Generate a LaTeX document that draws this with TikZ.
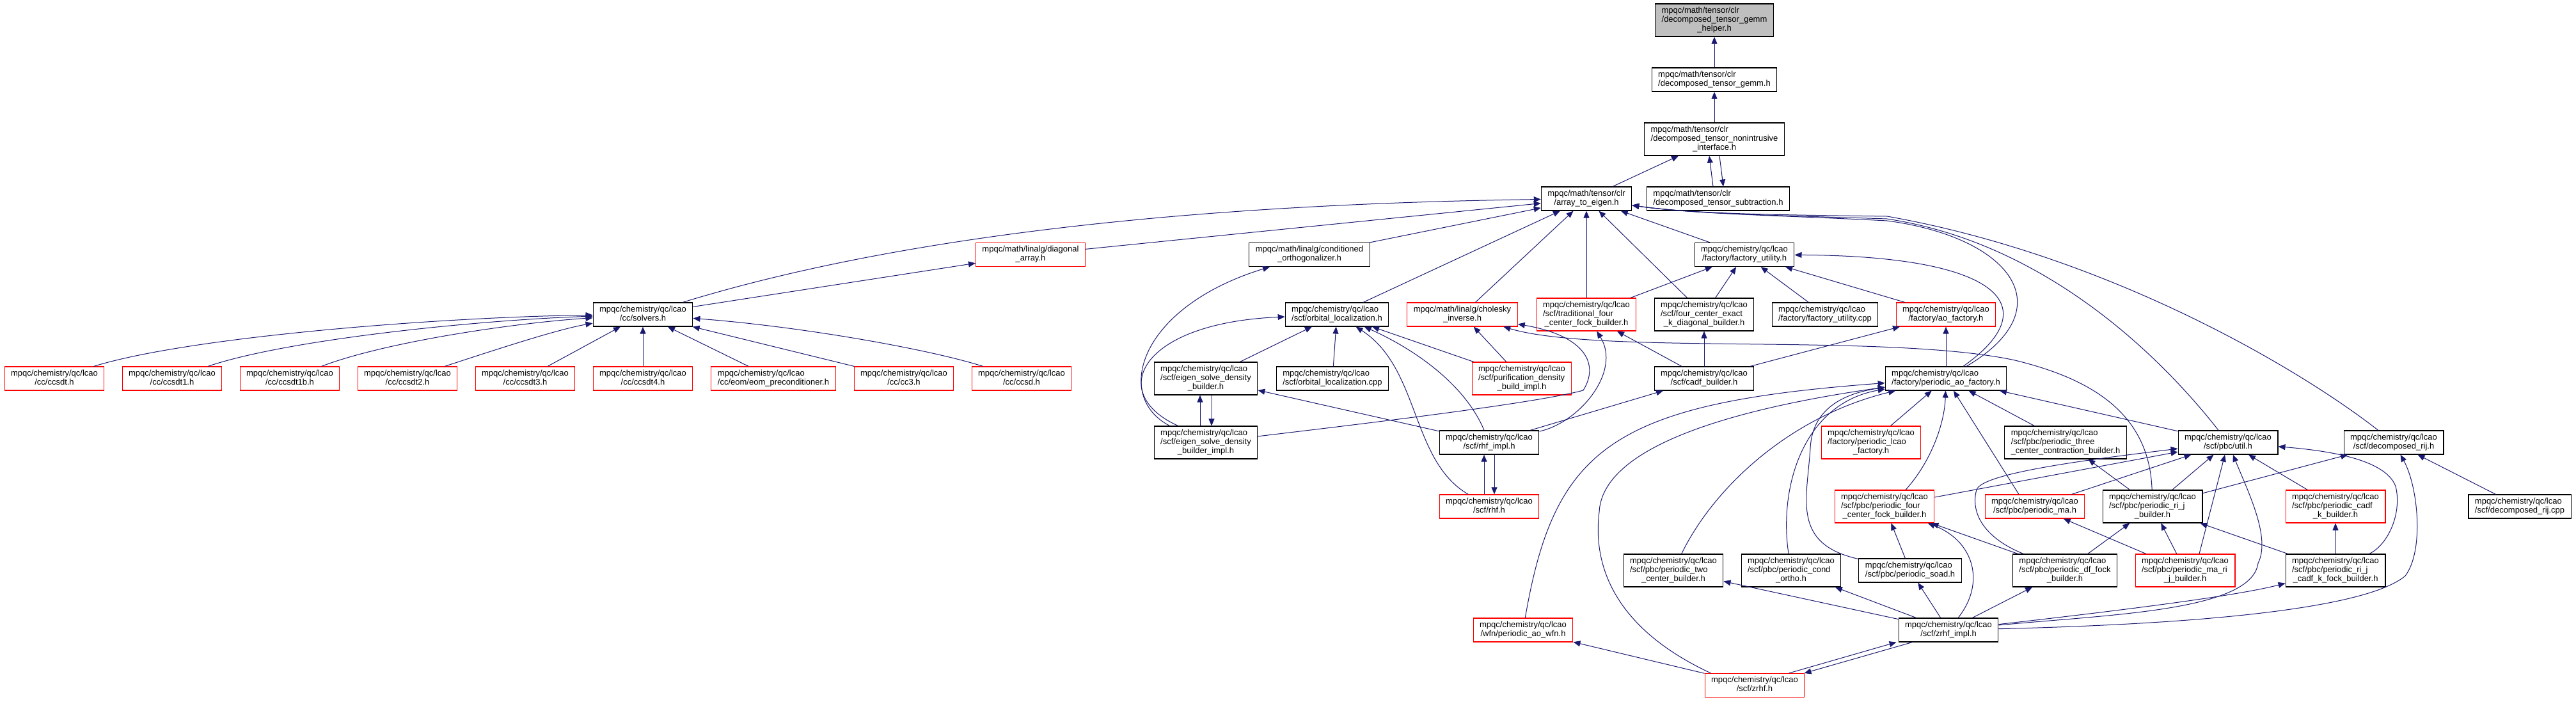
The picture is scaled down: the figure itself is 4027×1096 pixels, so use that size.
\documentclass[tikz,border=0pt]{standalone}
\usepackage{fontspec}
\setmainfont{Liberation Sans}
\usetikzlibrary{arrows.meta}
\newcommand{\lcao}{mpqc/chemistry/qc/lcao}
\newcommand{\ftwo}[2]{\begin{tabular}{@{}l@{}}#1\\\multicolumn{1}{@{}c@{}}{#2}\end{tabular}}
\newcommand{\fthree}[3]{\begin{tabular}{@{}l@{}}#1\\#2\\\multicolumn{1}{@{}c@{}}{#3}\end{tabular}}
\begin{document}
\begin{tikzpicture}[x=1pt, y=-1pt,
    font=\fontsize{13}{14}\selectfont,
    hdr/.style={draw=black, fill=white, line width=1.1pt, inner xsep=10pt, inner ysep=4.5pt},
    hdrcut/.style={hdr, draw=red},
    hdrtop/.style={hdr, fill=gray!50},
    incl/.style={draw=myedge, line width=1pt, -{Triangle[length=11pt,width=9pt]}}]
    \definecolor{myedge}{RGB}{25,25,112}
    \useasboundingbox (0,0) rectangle (4027,1096);

    % ranks 1 to 5
    \node[hdrtop] (helper) at (2680,31.5) {\fthree{mpqc/math/tensor/clr}{/decomposed\_tensor\_gemm}{\_helper.h}};
    \node[hdr] (gemm) at (2680,124.5) {\ftwo{mpqc/math/tensor/clr}{/decomposed\_tensor\_gemm.h}};
    \node[hdr] (nonint) at (2680,217.5) {\fthree{mpqc/math/tensor/clr}{/decomposed\_tensor\_nonintrusive}{\_interface.h}};
    \node[hdr] (ate) at (2480,310.5) {\ftwo{mpqc/math/tensor/clr}{/array\_to\_eigen.h}};
    \node[hdr] (subtr) at (2686,310.5) {\ftwo{mpqc/math/tensor/clr}{/decomposed\_tensor\_subtraction.h}};
    \node[hdrcut] (diag) at (1611,398) {\ftwo{mpqc/math/linalg/diagonal}{\_array.h}};
    \node[hdr] (cond) at (2047,398) {\ftwo{mpqc/math/linalg/conditioned}{\_orthogonalizer.h}};
    \node[hdr] (fu) at (2727,398) {\ftwo{\lcao}{/factory/factory\_utility.h}};

    % rank 6
    \node[hdr] (solvers) at (1005,491.5) {\ftwo{\lcao}{/cc/solvers.h}};
    \node[hdr] (orbh) at (2090,491.5) {\ftwo{\lcao}{/scf/orbital\_localization.h}};
    \node[hdrcut] (cho) at (2286,491.5) {\ftwo{mpqc/math/linalg/cholesky}{\_inverse.h}};
    \node[hdrcut] (trad) at (2480,491.5) {\fthree{\lcao}{/scf/traditional\_four}{\_center\_fock\_builder.h}};
    \node[hdr] (fce) at (2664,491.5) {\fthree{\lcao}{/scf/four\_center\_exact}{\_k\_diagonal\_builder.h}};
    \node[hdr] (fucpp) at (2853,491.5) {\ftwo{\lcao}{/factory/factory\_utility.cpp}};
    \node[hdrcut] (aof) at (3042,491.5) {\ftwo{\lcao}{/factory/ao\_factory.h}};

    % rank 7
    \foreach \nm/\x/\fn in {ccsdt/85/ccsdt.h, ccsdt1/269/ccsdt1.h, ccsdt1b/453/ccsdt1b.h,
        ccsdt2/637/ccsdt2.h, ccsdt3/821/ccsdt3.h, ccsdt4/1005/ccsdt4.h,
        eompre/1209/{eom/eom\_preconditioner.h}, cc3/1413/cc3.h, ccsd/1597/ccsd.h}
        \node[hdrcut] (\nm) at (\x,591.5) {\ftwo{\lcao}{/cc/\fn}};
    \node[hdr] (esb) at (1885,591.5) {\fthree{\lcao}{/scf/eigen\_solve\_density}{\_builder.h}};
    \node[hdr] (olcpp) at (2083,591.5) {\ftwo{\lcao}{/scf/orbital\_localization.cpp}};
    \node[hdrcut] (pur) at (2379,591.5) {\fthree{\lcao}{/scf/purification\_density}{\_build\_impl.h}};
    \node[hdr] (cadf) at (2664,591.5) {\ftwo{\lcao}{/scf/cadf\_builder.h}};
    \node[hdr] (pao) at (3042,591.5) {\ftwo{\lcao}{/factory/periodic\_ao\_factory.h}};

    % rank 8
    \node[hdr] (esi) at (1885,691.5) {\fthree{\lcao}{/scf/eigen\_solve\_density}{\_builder\_impl.h}};
    \node[hdr] (rhi) at (2328,691.5) {\ftwo{\lcao}{/scf/rhf\_impl.h}};
    \node[hdrcut] (plcao) at (2925,691.5) {\fthree{\lcao}{/factory/periodic\_lcao}{\_factory.h}};
    \node[hdr] (threec) at (3229,691.5) {\fthree{\lcao}{/scf/pbc/periodic\_three}{\_center\_contraction\_builder.h}};
    \node[hdr] (util) at (3483,691.5) {\ftwo{\lcao}{/scf/pbc/util.h}};
    \node[hdr] (drijh) at (3742,691.5) {\ftwo{\lcao}{/scf/decomposed\_rij.h}};

    % rank 9
    \node[hdrcut] (rhf) at (2328,791.5) {\ftwo{\lcao}{/scf/rhf.h}};
    \node[hdrcut] (pfc) at (2946,791.5) {\fthree{\lcao}{/scf/pbc/periodic\_four}{\_center\_fock\_builder.h}};
    \node[hdrcut] (pma) at (3181,791.5) {\ftwo{\lcao}{/scf/pbc/periodic\_ma.h}};
    \node[hdr] (rjb) at (3365,791.5) {\fthree{\lcao}{/scf/pbc/periodic\_ri\_j}{\_builder.h}};
    \node[hdrcut] (ckb) at (3651,791.5) {\fthree{\lcao}{/scf/pbc/periodic\_cadf}{\_k\_builder.h}};
    \node[hdr] (drijcpp) at (3939,791.5) {\ftwo{\lcao}{/scf/decomposed\_rij.cpp}};

    % rank 10
    \node[hdr] (twoc) at (2616,891.5) {\fthree{\lcao}{/scf/pbc/periodic\_two}{\_center\_builder.h}};
    \node[hdr] (cort) at (2800,891.5) {\fthree{\lcao}{/scf/pbc/periodic\_cond}{\_ortho.h}};
    \node[hdr] (soad) at (2986,891.5) {\ftwo{\lcao}{/scf/pbc/periodic\_soad.h}};
    \node[hdr] (dff) at (3228,891.5) {\fthree{\lcao}{/scf/pbc/periodic\_df\_fock}{\_builder.h}};
    \node[hdrcut] (mrj) at (3416,891.5) {\fthree{\lcao}{/scf/pbc/periodic\_ma\_ri}{\_j\_builder.h}};
    \node[hdr] (rjck) at (3651,891.5) {\fthree{\lcao}{/scf/pbc/periodic\_ri\_j}{\_cadf\_k\_fock\_builder.h}};

    % ranks 11 and 12
    \node[hdrcut] (paw) at (2381,984.5) {\ftwo{\lcao}{/wfn/periodic\_ao\_wfn.h}};
    \node[hdr] (zri) at (3046,984.5) {\ftwo{\lcao}{/scf/zrhf\_impl.h}};
    \node[hdrcut] (zrhf) at (2743,1071) {\ftwo{\lcao}{/scf/zrhf.h}};

    % top chain
    \draw[incl] (gemm) -- (helper);
    \draw[incl] (nonint) -- (gemm);
    \draw[incl] (ate) -- (nonint);
    \draw[incl] ([xshift=-8pt]subtr.north) -- ([xshift=-8pt]nonint.south);
    \draw[incl] ([xshift=8pt]nonint.south) -- ([xshift=8pt]subtr.north);

    % into array_to_eigen
    \draw[incl] (solvers) .. controls (1450,355) and (1950,318) .. (ate);
    \draw[incl] (diag) -- (ate);
    \draw[incl] (cond) -- (ate);
    \draw[incl] (orbh) -- (ate);
    \draw[incl] (cho) -- (ate);
    \draw[incl] (trad) -- (ate);
    \draw[incl] (fce) -- (ate);
    \draw[incl] (fu) -- (ate);
    \draw[incl] (pao) .. controls (3230,480) and (3140,370) .. (2950,345) .. controls (2800,337) and (2650,335) .. (ate);
    \draw[incl] (util) .. controls (3380,560) and (3200,380) .. (2950,342) .. controls (2800,337) and (2650,335) .. (ate);
    \draw[incl] (drijh) .. controls (3600,580) and (3300,400) .. (2950,338) .. controls (2800,336) and (2650,335) .. (ate);

    % solvers
    \draw[incl] (solvers) -- (diag);
    \draw[incl] (ccsdt) .. controls (300,525) and (700,495) .. (solvers);
    \draw[incl] (ccsdt1) .. controls (450,530) and (750,500) .. (solvers);
    \draw[incl] (ccsdt1b) .. controls (600,535) and (800,505) .. (solvers);
    \draw[incl] (ccsdt2) .. controls (770,548) and (870,515) .. (solvers);
    \draw[incl] (ccsdt3) -- (solvers);
    \draw[incl] (ccsdt4) -- (solvers);
    \draw[incl] (eompre) -- (solvers);
    \draw[incl] (cc3) -- (solvers);
    \draw[incl] (ccsd) .. controls (1450,545) and (1250,510) .. (solvers);

    % eigen solve, orbital localization, cholesky
    \draw[incl] ([xshift=25pt]esi.north west) .. controls (1740,620) and (1780,480) .. (cond);
    \draw[incl] ([xshift=38pt]esi.north west) .. controls (1730,615) and (1780,505) .. (orbh);
    \draw[incl] (esi) .. controls (2150,660) and (2400,630) .. (2475,610) .. controls (2500,570) and (2480,525) .. (cho);
    \draw[incl] ([xshift=-9pt]esi.north) -- ([xshift=-9pt]esb.south);
    \draw[incl] ([xshift=9pt]esb.south) -- ([xshift=9pt]esi.north);
    \draw[incl] (esb) -- (orbh);
    \draw[incl] (olcpp) -- (orbh);
    \draw[incl] (pur) -- (orbh);
    \draw[incl] (pur) -- (cho);
    \draw[incl] (rhi) .. controls (2290,600) and (2210,545) .. (orbh);
    \draw[incl] (rhf) .. controls (2205,720) and (2220,575) .. (orbh);
    \draw[incl] (rhi) -- (esb);
    \draw[incl] (rhi) .. controls (2470,660) and (2535,580) .. (trad);
    \draw[incl] (rhi) -- (cadf);
    \draw[incl] ([xshift=-8pt]rhf.north) -- ([xshift=-8pt]rhi.south);
    \draw[incl] ([xshift=8pt]rhi.south) -- ([xshift=8pt]rhf.north);

    % factory
    \draw[incl] (cadf) -- (trad);
    \draw[incl] (cadf) -- (fce);
    \draw[incl] (cadf) -- (aof);
    \draw[incl] (trad) -- (fu);
    \draw[incl] (fce) -- (fu);
    \draw[incl] (fucpp) -- (fu);
    \draw[incl] (aof) -- (fu);
    \draw[incl] (pao) .. controls (3200,480) and (3130,400) .. (fu);
    \draw[incl] (pao) -- (aof);

    % into periodic_ao_factory
    \draw[incl] (paw) .. controls (2430,700) and (2520,630) .. (pao);
    \draw[incl] (twoc) .. controls (2680,760) and (2800,650) .. (pao);
    \draw[incl] (cort) .. controls (2780,760) and (2820,630) .. (pao);
    \draw[incl] (soad) .. controls (2800,850) and (2825,780) .. (2830,700) .. controls (2833,640) and (2880,615) .. (pao);
    \draw[incl] ([xshift=10pt]zrhf.north west) .. controls (2520,980) and (2490,880) .. (2500,800) .. controls (2505,700) and (2700,640) .. (pao);
    \draw[incl] (plcao) -- (pao);
    \draw[incl] ([xshift=33pt]pfc.north) .. controls (3020,720) and (3040,660) .. (pao);
    \draw[incl] ([xshift=-25pt]pma.north) -- (pao);
    \draw[incl] (threec) -- (pao);
    \draw[incl] (util) -- (pao);

    % into util
    \draw[incl] (pfc) -- (util);
    \draw[incl] (dff) .. controls (3100,840) and (3080,800) .. (3090,765) .. controls (3100,740) and (3250,720) .. (util);
    \draw[incl] (pma) -- (util);
    \draw[incl] (rjb) -- (util);
    \draw[incl] ([xshift=22pt]mrj.north) -- (util);
    \draw[incl] (zri) .. controls (3300,960) and (3520,955) .. (3530,880) .. controls (3550,840) and (3515,770) .. (util);
    \draw[incl] (ckb) -- (util);
    \draw[incl] (rjck) .. controls (3735,850) and (3755,800) .. (3745,760) .. controls (3730,720) and (3650,705) .. (util);

    % decomposed rij
    \draw[incl] (rjb) -- (drijh);
    \draw[incl] (zri) .. controls (3450,975) and (3700,950) .. (3760,900) .. controls (3790,860) and (3780,760) .. (drijh);
    \draw[incl] (drijcpp) -- (drijh);

    % periodic builders
    \draw[incl] (rjb) -- (threec);
    \draw[incl] (rjb) .. controls (3360,640) and (3260,590) .. (3150,563) .. controls (2950,520) and (2500,555) .. (cho);
    \draw[incl] (dff) -- (rjb);
    \draw[incl] (mrj) -- (rjb);
    \draw[incl] (rjck) -- (rjb);
    \draw[incl] (rjck) -- (ckb);
    \draw[incl] (mrj) -- (pma);
    \draw[incl] (dff) -- (pfc);
    \draw[incl] (soad) -- (pfc);
    \draw[incl] (zri) .. controls (3105,910) and (3085,845) .. (pfc);

    % zrhf
    \draw[incl] (zri) -- (twoc);
    \draw[incl] (zri) -- (cort);
    \draw[incl] (zri) -- (soad);
    \draw[incl] (zri) -- (dff);
    \draw[incl] (zri) .. controls (3350,950) and (3500,930) .. (rjck);
    \draw[incl] (zrhf) -- (paw);
    \draw[incl] ([xshift=-25pt]zrhf.north east) -- ([xshift=-3pt]zri.south west);
    \draw[incl] ([xshift=22pt]zri.south west) -- ([xshift=-1pt]zrhf.north east);
\end{tikzpicture}
\end{document}
